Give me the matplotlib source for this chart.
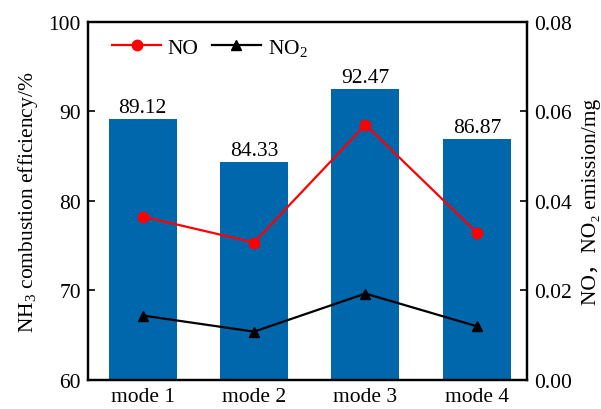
import numpy as np
import matplotlib
matplotlib.use('Agg')
import matplotlib.pyplot as plt

plt.rcParams['font.family'] = ['Liberation Serif', 'Noto Sans CJK SC']
plt.rcParams['mathtext.fontset'] = 'custom'
plt.rcParams['mathtext.rm'] = 'Liberation Serif'
plt.rcParams['mathtext.it'] = 'Liberation Serif:italic'
plt.rcParams['font.size'] = 15.5

# data
modes = ['mode 1', 'mode 2', 'mode 3', 'mode 4']
efficiency = [89.12, 84.33, 92.47, 86.87]
no_emission = [0.0365, 0.0307, 0.0570, 0.0329]
no2_emission = [0.0144, 0.0108, 0.0193, 0.0120]

x = np.arange(len(modes))
fs = 15.5

fig = plt.figure(figsize=(6.01, 4.10), dpi=100)
ax = fig.add_axes([0.1464, 0.0707, 0.7305, 0.874])

bars = ax.bar(x, efficiency, width=0.61, color='#0067ac', zorder=1)
for xi, v in zip(x, efficiency):
    ax.text(xi, v + 0.25, f'{v:.2f}', ha='center', va='bottom', fontsize=fs)

ax.set_ylim(60, 100)
ax.set_xlim(-0.49, 3.45)
ax.set_yticks([60, 70, 80, 90, 100])
ax.set_xticks(x)
ax.set_xticklabels(modes)
ax.set_ylabel('NH$_3$ combustion efficiency/%', fontsize=fs, labelpad=6)
ax.tick_params(axis='y', direction='in', length=5, width=1.2, labelsize=fs, pad=5)
ax.tick_params(axis='x', length=0, labelsize=fs, pad=5)

ax2 = ax.twinx()
l1, = ax2.plot(x, no_emission, color='red', marker='o', markersize=7.5, lw=1.6, label='NO')
l2, = ax2.plot(x, no2_emission, color='black', marker='^', markersize=7.5, lw=1.6, label='NO$_2$')
ax2.set_ylim(0, 0.08)
ax2.set_yticks([0, 0.02, 0.04, 0.06, 0.08])
ax2.set_yticklabels([f'{t:.2f}' for t in [0, 0.02, 0.04, 0.06, 0.08]])
ax2.set_ylabel('NO，NO₂ emission/mg', fontsize=fs, labelpad=7)
ax2.tick_params(axis='y', direction='in', length=5, width=1.2, labelsize=fs, pad=5)

for a in (ax, ax2):
    for s in a.spines.values():
        s.set_linewidth(1.6)

ax2.legend(handles=[l1, l2], loc='upper left', ncol=2, frameon=False,
           fontsize=fs, bbox_to_anchor=(0.02, 1.0), handlelength=2.3,
           columnspacing=0.6, handletextpad=0.3, borderaxespad=0.3)

fig.savefig('out.png', dpi=100)
